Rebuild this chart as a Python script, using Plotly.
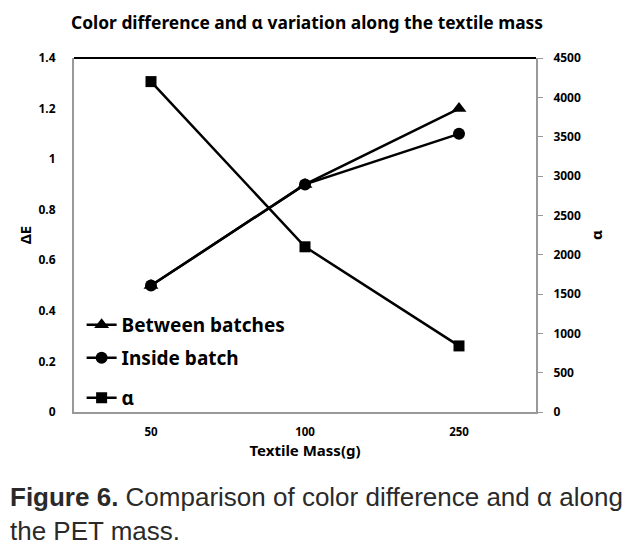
import plotly.graph_objects as go

categories = ["50", "100", "250"]
between_batches = [0.5, 0.9, 1.2]
inside_batch = [0.5, 0.9, 1.1]
alpha_vals = [4200, 2100, 840]

left_ticks = [0, 0.2, 0.4, 0.6, 0.8, 1, 1.2, 1.4]
left_tick_text = ["0", "0.2", "0.4", "0.6", "0.8", "1", "1.2", "1.4"]
right_ticks = [0, 500, 1000, 1500, 2000, 2500, 3000, 3500, 4000, 4500]

FONT = "Noto Sans"
line = dict(color="black", width=2.5)

fig = go.Figure()
fig.add_trace(go.Scatter(x=categories, y=between_batches, name="Between batches",
                         mode="lines+markers", line=line, legend="legend",
                         marker=dict(symbol="triangle-up", size=13, color="black")))
fig.add_trace(go.Scatter(x=categories, y=inside_batch, name="Inside batch",
                         mode="lines+markers", line=line, legend="legend2",
                         marker=dict(symbol="circle", size=12, color="black")))
fig.add_trace(go.Scatter(x=categories, y=alpha_vals, name="α", yaxis="y2",
                         mode="lines+markers", line=line, legend="legend3",
                         marker=dict(symbol="square", size=11, color="black")))

leg_common = dict(x=0.0165, xanchor="left", yanchor="middle",
                  font=dict(family=FONT, size=19, color="black", weight="bold"),
                  bgcolor="rgba(0,0,0,0)", itemwidth=30)

fig.update_layout(
    width=624, height=545,
    margin=dict(l=66, r=96, t=50, b=141),
    paper_bgcolor="white", plot_bgcolor="white",
    font=dict(family=FONT, color="black"),
    showlegend=True,
    legend=dict(y=87 / 354, **leg_common),
    legend2=dict(y=54 / 354, **leg_common),
    legend3=dict(y=14 / 354, **leg_common),
    xaxis=dict(type="category", range=[-0.5, 2.5], showgrid=False,
               showline=True, linecolor="#999999", linewidth=2,
               ticks="", tickfont=dict(size=11.5, weight="bold"),
               ticklabelstandoff=8,
               title=dict(text="<b>Textile Mass(g)</b>", font=dict(size=15), standoff=8)),
    yaxis=dict(range=[0, 1.4], tickvals=left_ticks, ticktext=left_tick_text,
               showgrid=False, zeroline=False, showline=True,
               linecolor="#999999", linewidth=2, ticks="",
               tickfont=dict(size=12, weight="bold"), ticklabelstandoff=14,
               title=dict(text="<b>ΔE</b>", font=dict(size=15), standoff=3)),
    yaxis2=dict(range=[0, 4500], tickvals=right_ticks, overlaying="y", side="right",
                showgrid=False, zeroline=False, showline=True,
                linecolor="#999999", linewidth=2, ticks="outside", ticklen=5,
                tickcolor="#999999", tickfont=dict(size=12, weight="bold"),
                ticklabelstandoff=8,
                title=dict(text="<b>α</b>", font=dict(size=15), standoff=12)),
    shapes=[dict(type="line", xref="paper", yref="paper", x0=0, x1=1, y0=1, y1=1,
                 line=dict(color="black", width=2))],
    annotations=[
        dict(text="<b>Color difference and α variation along the textile mass</b>",
             xref="paper", yref="paper", x=0.504, y=1, yshift=49, showarrow=False,
             xanchor="center", yanchor="top", borderpad=0,
             font=dict(size=17.4, family=FONT)),
        dict(text="<b>Figure 6.</b> Comparison of color difference and α along<br>the PET mass.",
             xref="paper", yref="paper", x=-66 / 462, y=0, yshift=-101.5, xanchor="left",
             yanchor="middle", align="left", showarrow=False,
             font=dict(size=26, family="Liberation Sans", color="#2a2a2a")),
    ],
)

fig.write_html("out.html")
